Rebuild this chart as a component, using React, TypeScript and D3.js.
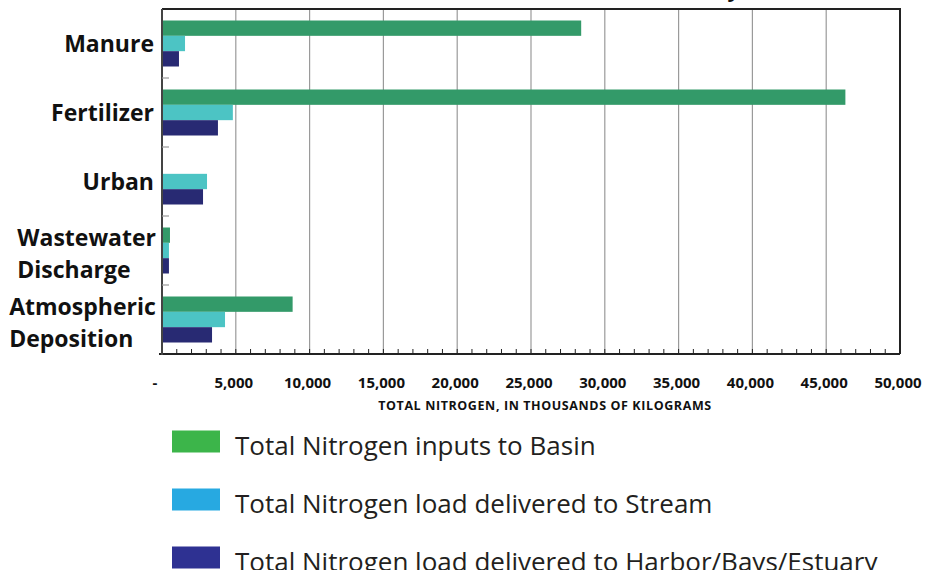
import * as d3 from 'd3';
import {useEffect, useRef} from 'react';

const width = 925;
const height = 570;

const categories = ['Manure', 'Fertilizer', 'Urban', 'Wastewater\nDischarge', 'Atmospheric\nDeposition'];
const inputsToBasin = [28400, 46300, 0, 540, 8850];
const loadToStream = [1560, 4800, 3050, 470, 4270];
const loadToHarbor = [1150, 3790, 2780, 470, 3390];
const seriesNames = [
  'Total Nitrogen inputs to Basin',
  'Total Nitrogen load delivered to Stream',
  'Total Nitrogen load delivered to Harbor/Bays/Estuary',
];
const barColors = ['#339a69', '#4cc4c4', '#282a73'];
const legendColors = ['#3cb54a', '#27a9e1', '#2e3192'];
const tickValues = [0, 5000, 10000, 15000, 20000, 25000, 30000, 35000, 40000, 45000, 50000];

function App() {
  const ref = useRef<HTMLDivElement>(null);

  useEffect(() => {
    const m = {top: 9, left: 162, right: 900, bottom: 354};
    const series = [inputsToBasin, loadToStream, loadToHarbor];

    const x = d3.scaleLinear().domain([0, 50000]).range([m.left, m.right]);
    const y = d3.scaleBand().domain(categories).range([m.top, m.bottom]);
    const inner = d3.scaleBand().domain(['0', '1', '2']).range([0, y.bandwidth()]).paddingOuter(0.75);

    const svg = d3
      .select(ref.current)
      .append('svg')
      .attr('width', width)
      .attr('height', height)
      .style('display', 'block')
      .style('background', '#fff');

    // cut-off title fragment at the very top
    svg
      .append('text')
      .attr('x', 740)
      .attr('y', -3)
      .attr('text-anchor', 'end')
      .attr('font-family', 'Open Sans')
      .attr('font-weight', 'bold')
      .attr('font-size', 22)
      .attr('fill', '#111')
      .text('y');

    // gridlines
    svg
      .append('g')
      .selectAll('line')
      .data(tickValues.slice(1, -1))
      .join('line')
      .attr('x1', d => x(d))
      .attr('x2', d => x(d))
      .attr('y1', m.top)
      .attr('y2', m.bottom)
      .attr('stroke', '#9a9a9a')
      .attr('stroke-width', 1.2);

    // bars
    series.forEach((vals, si) => {
      svg
        .append('g')
        .selectAll('rect')
        .data(vals)
        .join('rect')
        .attr('x', x(0))
        .attr('y', (d, i) => (y(categories[i]) as number) + (inner(String(si)) as number))
        .attr('width', d => x(d) - x(0))
        .attr('height', inner.bandwidth())
        .attr('fill', barColors[si]);
    });

    // frame
    svg
      .append('path')
      .attr('d', `M${m.left},${m.top}H${m.right}V${m.bottom}`)
      .attr('fill', 'none')
      .attr('stroke', '#222')
      .attr('stroke-width', 2);
    svg
      .append('line')
      .attr('x1', m.left - 3)
      .attr('x2', m.right)
      .attr('y1', m.bottom)
      .attr('y2', m.bottom)
      .attr('stroke', '#222')
      .attr('stroke-width', 2);
    svg
      .append('line')
      .attr('x1', m.left)
      .attr('x2', m.left)
      .attr('y1', m.top)
      .attr('y2', m.bottom + 1)
      .attr('stroke', '#444')
      .attr('stroke-width', 2);

    // category separator ticks
    svg
      .append('g')
      .selectAll('line')
      .data(categories.slice(1))
      .join('line')
      .attr('x1', m.left)
      .attr('x2', m.left + 7)
      .attr('y1', d => y(d) as number)
      .attr('y2', d => y(d) as number)
      .attr('stroke', '#999')
      .attr('stroke-width', 1.2);

    // minor ticks on bottom axis
    svg
      .append('g')
      .selectAll('line')
      .data(d3.range(1000, 50000, 1000))
      .join('line')
      .attr('x1', d => x(d))
      .attr('x2', d => x(d))
      .attr('y1', m.bottom - 5)
      .attr('y2', m.bottom)
      .attr('stroke', '#222')
      .attr('stroke-width', 1);

    // x tick labels
    svg
      .append('g')
      .selectAll('text')
      .data(tickValues)
      .join('text')
      .attr('x', d => (d === 0 ? 155 : x(d) - 2))
      .attr('y', 388)
      .attr('text-anchor', 'middle')
      .attr('font-family', 'Open Sans')
      .attr('font-weight', 'bold')
      .attr('font-size', 15)
      .attr('fill', '#111')
      .text(d => (d === 0 ? '-' : d3.format(',')(d)));

    svg
      .append('text')
      .attr('x', 545)
      .attr('y', 410)
      .attr('text-anchor', 'middle')
      .attr('font-family', 'Open Sans')
      .attr('font-weight', 'bold')
      .attr('font-size', 12.5)
      .attr('letter-spacing', 0.6)
      .attr('fill', '#111')
      .text('TOTAL NITROGEN, IN THOUSANDS OF KILOGRAMS');

    // category labels
    const labels = svg.append('g');
    categories.forEach(c => {
      const lines = c.split('\n');
      const cy = (y(c) as number) + y.bandwidth() / 2 + (lines.length > 1 ? 3 : 0);
      const t = labels
        .append('text')
        .attr('font-family', 'Open Sans')
        .attr('font-weight', 'bold')
        .attr('font-size', 23)
        .attr('fill', '#111');
      lines.forEach((ln, i) => {
        t.append('tspan')
          .attr('x', 0)
          .attr('y', cy + (i - (lines.length - 1) / 2) * 32 + 8)
          .text(ln);
      });
      const w = (t.node() as SVGTextElement).getBBox().width;
      const rightEdge = lines.length > 1 ? 156 : 154;
      t.selectAll('tspan').attr('x', rightEdge - w);
    });

    // legend
    const legend = svg.append('g');
    seriesNames.forEach((name, i) => {
      const ly = 441.5 + i * 58;
      legend
        .append('rect')
        .attr('x', 172)
        .attr('y', ly - 11)
        .attr('width', 48)
        .attr('height', 22)
        .attr('fill', legendColors[i]);
      legend
        .append('text')
        .attr('x', 235)
        .attr('y', ly + 13)
        .attr('font-family', 'Open Sans')
        .attr('font-size', 26)
        .attr('fill', '#231f20')
        .text(name);
    });

    return () => {
      svg.remove();
    };
  }, []);

  return <div ref={ref} style={{position: 'absolute', left: 0, top: 0}}></div>;
}

export default App;
